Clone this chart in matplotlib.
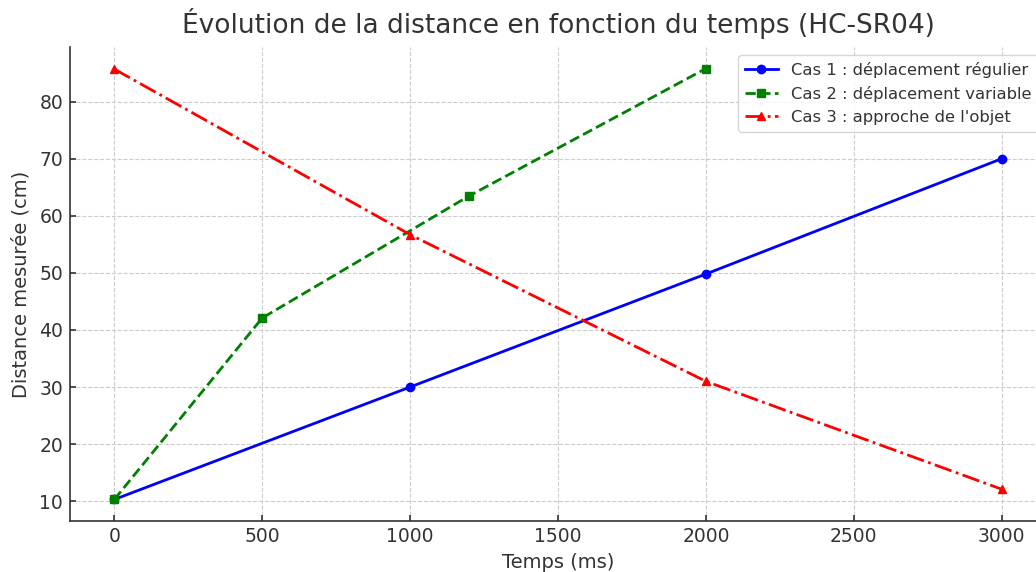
import matplotlib.pyplot as plt

# Temps (ms) et distances mesurées (cm)
t1 = [0, 1000, 2000, 3000]
d1 = [10.3, 30.0, 49.8, 70.0]
t2 = [0, 500, 1200, 2000]
d2 = [10.3, 42.1, 63.5, 85.8]
t3 = [0, 1000, 2000, 3000]
d3 = [85.7, 56.7, 31.0, 12.1]

labels = ["Cas 1 : déplacement régulier",
          "Cas 2 : déplacement variable",
          "Cas 3 : approche de l'objet"]

txt = '#333333'
plt.rcParams['text.color'] = txt
plt.rcParams['axes.labelcolor'] = txt
plt.rcParams['xtick.color'] = txt
plt.rcParams['ytick.color'] = txt

fig = plt.figure(figsize=(10.36, 5.72), dpi=100)
# the original is cropped on the right, so the axes run past the figure edge
ax = fig.add_axes([70/1036, 51/572, 976/1036, 474/572])

ax.plot(t1, d1, 'o-', color='blue', lw=2, ms=6, label=labels[0])
ax.plot(t2, d2, 's--', color='green', lw=2, ms=6, label=labels[1])
ax.plot(t3, d3, '^-.', color='red', lw=2, ms=6, label=labels[2])

ax.set_title("Évolution de la distance en fonction du temps (HC-SR04)", fontsize=19, pad=10)
ax.set_xlabel("Temps (ms)", fontsize=14, labelpad=5)
ax.set_ylabel("Distance mesurée (cm)", fontsize=14, labelpad=6)
ax.tick_params(labelsize=13.5, length=4, width=1.2, direction='in')
ax.tick_params(axis='x', pad=4)
ax.tick_params(axis='y', pad=5)
ax.grid(True, linestyle='--', color='#cccccc', lw=0.8)
for s in ('top', 'right'):
    ax.spines[s].set_visible(False)
for s in ('left', 'bottom'):
    ax.spines[s].set_color(txt)
    ax.spines[s].set_linewidth(1.2)

ax.legend(loc='upper right', fontsize=11.8)

fig.savefig('out.png', dpi=100)
